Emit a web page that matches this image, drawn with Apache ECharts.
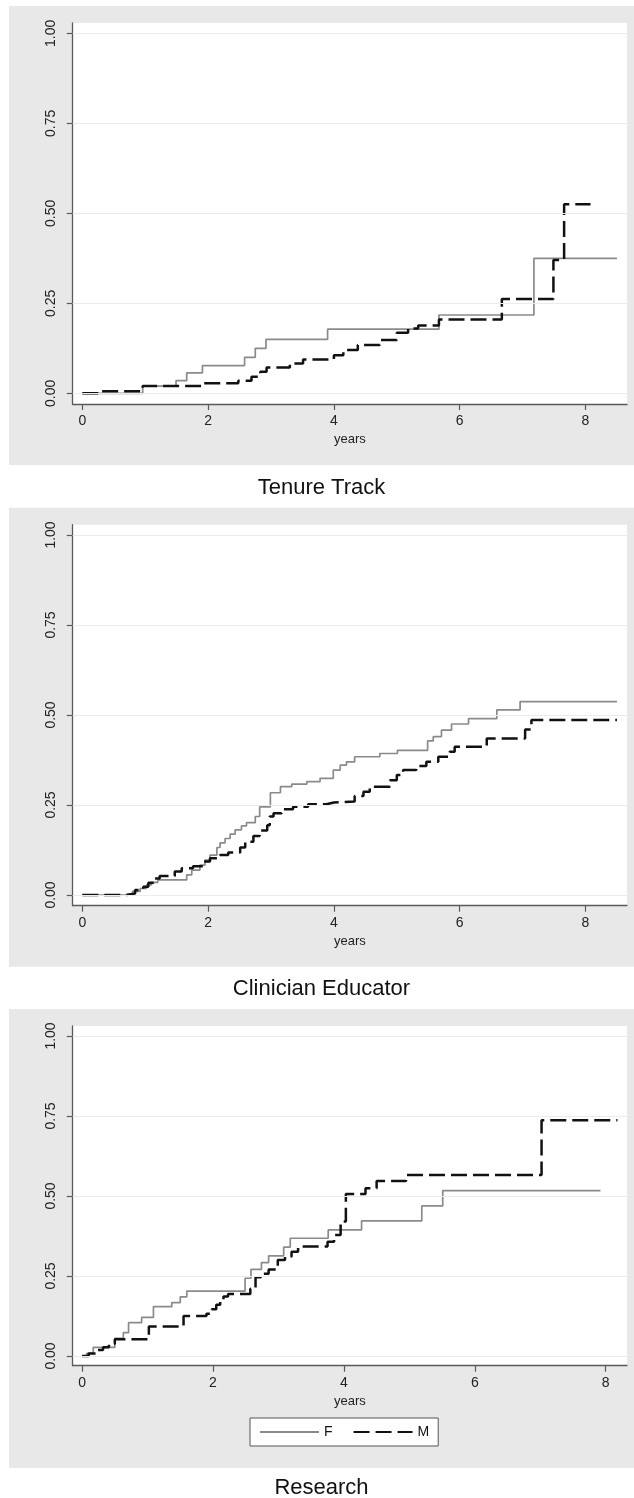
<!DOCTYPE html>
<html><head><meta charset="utf-8">
<script src="https://cdn.jsdelivr.net/npm/echarts@6/dist/echarts.min.js"></script>
<style>html,body{margin:0;padding:0;background:#fff}#c{width:634px;height:1498px}</style>
</head><body><div id="c"></div>
<script>
// ---- data ----
const panelTitles = ['Tenure Track', 'Clinician Educator', 'Research'];
const seriesNames = ['F', 'M'];
const xTicks = [0, 2, 4, 6, 8];
const yTicks = [0, 0.25, 0.5, 0.75, 1];
const xAxisName = 'years';

// [years, cumulative proportion from that time onward]
const tenureF = [[0,0],[0.96,0.02],[1.49,0.035],[1.66,0.057],[1.91,0.077],[2.58,0.10],[2.75,0.125],[2.92,0.15],[3.9,0.178],[5.67,0.2175],[7.18,0.375],[8.5,0.375]];
const tenureM = [[0,0],[0.28,0.006],[0.96,0.02],[1.9,0.028],[2.48,0.035],[2.69,0.046],[2.83,0.06],[2.93,0.072],[3.30,0.083],[3.51,0.094],[4.0,0.106],[4.15,0.12],[4.38,0.134],[4.73,0.148],[5.0,0.168],[5.18,0.18],[5.34,0.188],[5.67,0.205],[6.67,0.262],[7.49,0.37],[7.66,0.525],[8.08,0.525]];

const clinF = [[0,0],[0.68,0.004],[0.8,0.01],[0.92,0.018],[1.02,0.028],[1.1,0.035],[1.2,0.042],[1.66,0.056],[1.74,0.069],[1.87,0.083],[1.95,0.097],[2.03,0.111],[2.14,0.132],[2.19,0.145],[2.27,0.157],[2.35,0.169],[2.43,0.181],[2.53,0.192],[2.61,0.201],[2.75,0.218],[2.82,0.245],[2.99,0.284],[3.15,0.301],[3.33,0.308],[3.57,0.315],[3.78,0.324],[3.99,0.347],[4.1,0.361],[4.2,0.37],[4.33,0.384],[4.73,0.393],[5.01,0.402],[5.49,0.428],[5.58,0.44],[5.71,0.458],[5.87,0.475],[6.14,0.49],[6.59,0.514],[6.96,0.537],[8.5,0.537]];
const clinM = [[0,0],[0.7,0.004],[0.84,0.014],[0.97,0.023],[1.05,0.034],[1.13,0.046],[1.23,0.053],[1.47,0.065],[1.58,0.074],[1.76,0.08],[1.92,0.093],[2.03,0.102],[2.19,0.111],[2.32,0.118],[2.51,0.132],[2.59,0.148],[2.72,0.164],[2.82,0.179],[2.94,0.194],[2.98,0.218],[3.04,0.227],[3.17,0.238],[3.35,0.245],[3.59,0.252],[3.88,0.257],[4.0,0.26],[4.33,0.275],[4.47,0.287],[4.57,0.301],[4.89,0.319],[5.0,0.333],[5.1,0.347],[5.31,0.358],[5.47,0.37],[5.66,0.384],[5.84,0.398],[5.92,0.412],[6.43,0.435],[7.04,0.46],[7.14,0.486],[8.5,0.486]];

const resF = [[0,0],[0.07,0.008],[0.17,0.027],[0.5,0.055],[0.63,0.073],[0.71,0.104],[0.91,0.121],[1.09,0.154],[1.37,0.167],[1.5,0.185],[1.6,0.203],[2.49,0.243],[2.58,0.271],[2.74,0.292],[2.85,0.313],[3.08,0.34],[3.18,0.368],[3.76,0.394],[4.27,0.422],[5.19,0.469],[5.51,0.517],[7.92,0.517]];
const resM = [[0,0],[0.1,0.008],[0.22,0.019],[0.32,0.027],[0.41,0.038],[0.5,0.052],[1.02,0.092],[1.55,0.125],[1.9,0.132],[1.98,0.146],[2.05,0.16],[2.11,0.172],[2.16,0.186],[2.23,0.194],[2.57,0.21],[2.65,0.246],[2.73,0.257],[2.85,0.27],[2.99,0.3],[3.1,0.311],[3.2,0.326],[3.3,0.342],[3.75,0.357],[3.85,0.378],[3.95,0.42],[4.03,0.506],[4.33,0.524],[4.5,0.547],[4.95,0.566],[7.02,0.737],[8.18,0.737]];

const panelData = [[tenureF, tenureM], [clinF, clinM], [resF, resM]];

// ---- layout (pixels) ----
const FONT = '"Liberation Sans", Arial, Helvetica, sans-serif';
const plotLeft = 72.7, plotRight = 627, bgLeft = 9, bgRight = 634;
const panels = [
  {bgTop: 6,     bgBottom: 465,   top: 23,    bottom: 404,    y0: 393.3, y1: 33.3,  x0: 82.3, pxPerYear: 62.9,  titleY: 488},
  {bgTop: 507.7, bgBottom: 966.7, top: 524.7, bottom: 905.7,  y0: 895,   y1: 535,   x0: 82.3, pxPerYear: 62.9,  titleY: 989},
  {bgTop: 1009,  bgBottom: 1468,  top: 1026,  bottom: 1365.7, y0: 1356,  y1: 1036,  x0: 82.1, pxPerYear: 65.45, titleY: 1488}
];

const grids = [], xAxes = [], yAxes = [], series = [], graphics = [];
const axisColor = '#5a5a5a';
panels.forEach((p, i) => {
  const pxPerUnit = p.y0 - p.y1;
  const yMin = -(p.bottom - p.y0) / pxPerUnit;
  const yMax = 1 + (p.y1 - p.top) / pxPerUnit;
  const xMin = -(p.x0 - plotLeft) / p.pxPerYear;
  const xMax = (plotRight - p.x0) / p.pxPerYear;
  grids.push({left: plotLeft, top: p.top, width: plotRight - plotLeft, height: p.bottom - p.top,
    show: true, backgroundColor: '#ffffff', borderWidth: 0, containLabel: false, outerBoundsMode: 'none'});
  xAxes.push({type: 'value', gridIndex: i, min: xMin, max: xMax,
    name: xAxisName, nameLocation: 'middle', nameGap: 29,
    nameTextStyle: {fontSize: 13, color: '#222', fontFamily: FONT},
    axisLine: {show: true, onZero: false, lineStyle: {color: axisColor, width: 1.3}},
    axisTick: {show: true, length: 6, customValues: xTicks, lineStyle: {color: axisColor, width: 1.2}},
    axisLabel: {show: true, customValues: xTicks, fontSize: 14, color: '#222', margin: 10, fontFamily: FONT,
      formatter: v => String(v)},
    splitLine: {show: false}});
  yAxes.push({type: 'value', gridIndex: i, min: yMin, max: yMax,
    axisLine: {show: true, onZero: false, lineStyle: {color: axisColor, width: 1.3}},
    axisTick: {show: true, length: 6, customValues: yTicks, lineStyle: {color: axisColor, width: 1.2}},
    axisLabel: {show: true, customValues: yTicks, rotate: 90, fontSize: 14, color: '#222', margin: 15, fontFamily: FONT,
      formatter: v => v.toFixed(2)},
    splitLine: {show: false}});
  const [fData, mData] = panelData[i];
  series.push({name: seriesNames[0], type: 'line', step: 'end', xAxisIndex: i, yAxisIndex: i,
    data: fData, symbol: 'none', showSymbol: false, z: 3,
    lineStyle: {color: '#8a8a8a', width: 1.7}, itemStyle: {color: '#8a8a8a'},
    markLine: {silent: true, symbol: 'none', animation: false, label: {show: false},
      lineStyle: {color: '#ebebeb', width: 1, type: 'solid'},
      emphasis: {disabled: true},
      data: yTicks.map(v => ({yAxis: v}))}});
  series.push({name: seriesNames[1], type: 'line', step: 'end', xAxisIndex: i, yAxisIndex: i,
    data: mData, symbol: 'none', showSymbol: false, z: 4,
    lineStyle: {color: '#111111', width: 2.5, type: [16, 6]}, itemStyle: {color: '#111111'}});
  graphics.push({type: 'rect', z: -10, silent: true,
    shape: {x: bgLeft, y: p.bgTop, width: bgRight - bgLeft, height: p.bgBottom - p.bgTop},
    style: {fill: '#e8e8e8'}});
  graphics.push({type: 'text', z: 10, silent: true, x: (bgLeft + bgRight) / 2, y: p.titleY,
    style: {text: panelTitles[i], font: '22px ' + FONT, fill: '#111', textAlign: 'center', textVerticalAlign: 'middle'}});
});

const chart = echarts.init(document.getElementById('c'), null, {renderer: 'canvas'});
chart.setOption({
  animation: false,
  backgroundColor: 'transparent',
  grid: grids, xAxis: xAxes, yAxis: yAxes, series: series,
  graphic: graphics,
  legend: {data: seriesNames, left: 250, top: 1418, orient: 'horizontal', selectedMode: false,
    padding: [7, 9], itemWidth: 59, itemHeight: 14, itemGap: 20,
    itemStyle: {opacity: 0, borderWidth: 0},
    backgroundColor: '#ffffff', borderColor: '#555', borderWidth: 1, borderRadius: 0,
    textStyle: {fontSize: 14, color: '#111', fontFamily: FONT}}
});
</script></body></html>
